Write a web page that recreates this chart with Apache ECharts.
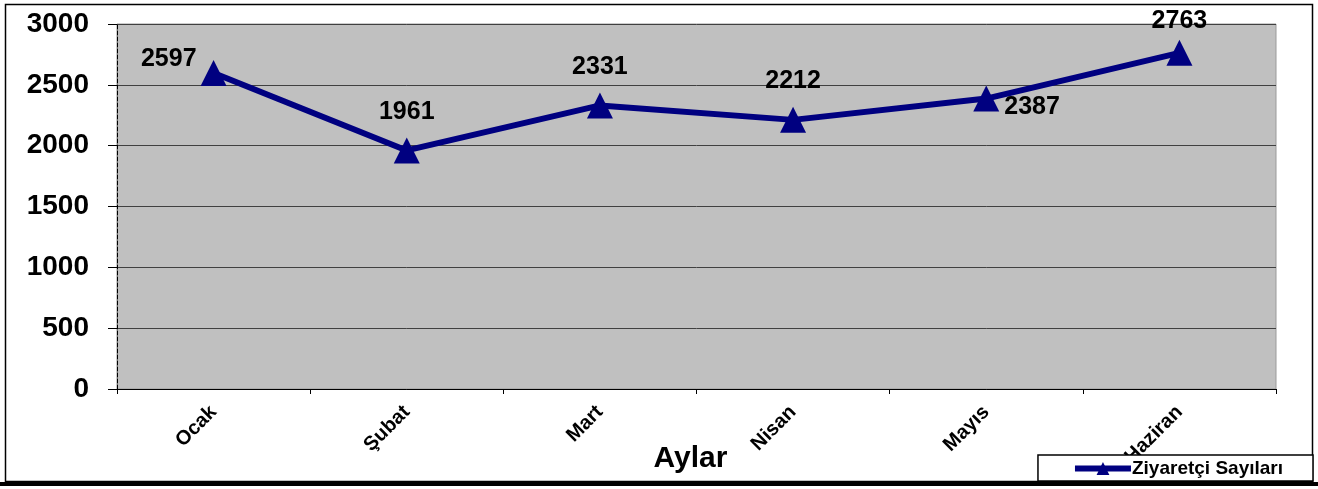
<!DOCTYPE html>
<html>
<head>
<meta charset="utf-8">
<script src="https://cdn.jsdelivr.net/npm/echarts@6/dist/echarts.min.js"></script>
<style>
  html, body { margin: 0; padding: 0; background: #fff; }
  #chart { width: 1318px; height: 489px; }
</style>
</head>
<body>
<div id="chart"></div>
<script>
var months = ['Ocak', 'Şubat', 'Mart', 'Nisan', 'Mayıs', 'Haziran'];
var visitors = [2597, 1961, 2331, 2212, 2387, 2763];
var seriesName = 'Ziyaretçi Sayıları';
var axisName = 'Aylar';

// etiket konumları (grafikteki gibi)
function labelFor(i) {
    if (i === 0) return {position: 'left', offset: [1, -14]};
    if (i === 4) return {position: 'right', offset: [0, 9]};
    if (i === 5) return {position: 'top', distance: 6};
    return {position: 'top', distance: 13};
}

var chart = echarts.init(document.getElementById('chart'));
var font = 'Liberation Sans, Arial, sans-serif';

var option = {
    animation: false,
    textStyle: {fontFamily: font},
    grid: {
        left: 117, right: 42, top: 24, bottom: 100,
        outerBoundsMode: 'none',
        containLabel: false,
        show: true,
        backgroundColor: '#c0c0c0',
        borderColor: '#9a9a9a',
        borderWidth: 1
    },
    legend: {
        right: 5, bottom: 8,
        data: [seriesName],
        backgroundColor: '#fff',
        borderColor: '#000',
        borderWidth: 1.5,
        borderRadius: 0,
        padding: [4, 30, 3, 34],
        itemWidth: 56, itemHeight: 16,
        itemGap: 2,
        lineStyle: {width: 6},
        textStyle: {fontSize: 19, fontWeight: 'bold', color: '#000', fontFamily: font, padding: [0, 0, 0, -4]}
    },
    xAxis: {
        type: 'category',
        data: months,
        boundaryGap: true,
        name: axisName,
        nameLocation: 'middle',
        nameGap: 55,
        nameMoveOverlap: false,
        nameTextStyle: {fontSize: 30, fontWeight: 'bold', color: '#000', padding: [0, 12, 0, 0]},
        axisLine: {lineStyle: {color: '#000', width: 1}},
        axisTick: {show: true, length: 5, lineStyle: {color: '#000'}},
        axisLabel: {
            rotate: 45, fontSize: 20, fontWeight: 'bold', color: '#000', margin: 20
        }
    },
    yAxis: {
        type: 'value',
        min: 0, max: 3000, interval: 500,
        axisLine: {show: true, lineStyle: {color: '#000', width: 1, type: 'dashed'}},
        axisTick: {show: true, length: 9, lineStyle: {color: '#000'}},
        axisLabel: {
            fontSize: 28, fontWeight: 'bold', color: '#000', margin: 28,
            formatter: function (v) { return String(v); }
        },
        splitLine: {lineStyle: {color: '#404040', width: 1}}
    },
    series: [{
        name: seriesName,
        type: 'line',
        data: visitors.map(function (v, i) {
            return {value: v, label: labelFor(i)};
        }),
        symbol: 'triangle',
        symbolSize: [26, 26],
        lineStyle: {color: '#000080', width: 6},
        itemStyle: {color: '#000080'},
        label: {
            show: true, fontSize: 25, fontWeight: 'bold', color: '#000'
        }
    }],
    graphic: [{
        type: 'rect',
        shape: {x: 5.5, y: 4.5, width: 1307, height: 477},
        style: {fill: null, stroke: '#000', lineWidth: 1.5},
        z: -1
    }, {
        type: 'rect',
        shape: {x: 0, y: 482, width: 1318, height: 4},
        style: {fill: '#000'},
        z: 100
    }]
};
chart.setOption(option);
</script>
</body>
</html>
